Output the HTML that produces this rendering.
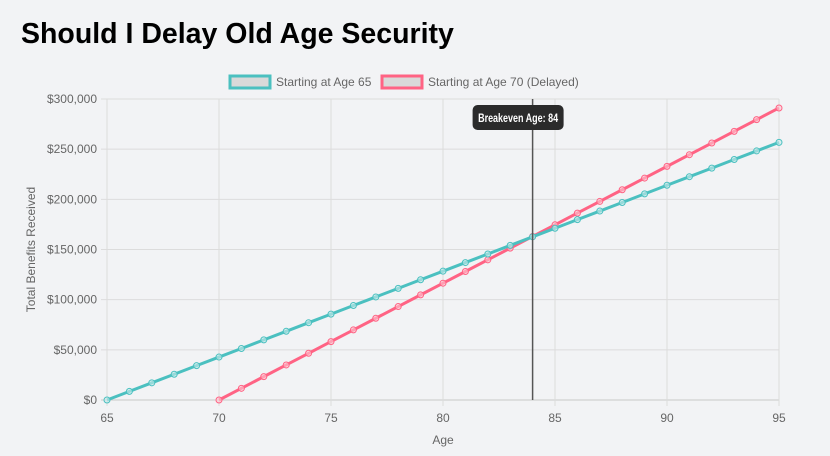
<!DOCTYPE html>
<html><head><meta charset="utf-8"><style>
body{margin:0;background:#f2f3f5;width:830px;height:456px;overflow:hidden;font-family:"Liberation Sans",sans-serif}
h1{position:absolute;left:21px;top:18px;margin:0;font-size:28.5px;font-weight:bold;color:#000;letter-spacing:0px}
svg{position:absolute;left:0;top:0}
</style></head><body>
<h1>Should I Delay Old Age Security</h1>
<svg id="c" width="830" height="456" font-family="Liberation Sans, sans-serif"></svg>
<script>
const ages65 = [65,66,67,68,69,70,71,72,73,74,75,76,77,78,79,80,81,82,83,84,85,86,87,88,89,90,91,92,93,94,95];
const values65 = [0,8560,17120,25680,34240,42800,51360,59920,68480,77040,85600,94160,102720,111280,119840,128400,136960,145520,154080,162640,171200,179760,188320,196880,205440,214000,222560,231120,239680,248240,256800];
const ages70 = [70,71,72,73,74,75,76,77,78,79,80,81,82,83,84,85,86,87,88,89,90,91,92,93,94,95];
const values70 = [0,11642,23284,34926,46568,58210,69852,81494,93136,104778,116420,128062,139704,151346,162988,174630,186272,197914,209556,221198,232840,244482,256124,267766,279408,291050];
const xTicks = [65,70,75,80,85,90,95];
const yTicks = [0,50000,100000,150000,200000,250000,300000];
const yTickLabels = ["$0","$50,000","$100,000","$150,000","$200,000","$250,000","$300,000"];
const breakevenAge = 84;

const L=107,R=779,T=99,B=400;
const xs=a=>L+(a-65)/30*(R-L);
const ys=v=>B-v/300000*(B-T);
const svg=document.getElementById('c');
const NS='http://www.w3.org/2000/svg';
function mk(tag,attrs,parent){const e=document.createElementNS(NS,tag);for(const k in attrs)e.setAttribute(k,attrs[k]);(parent||svg).appendChild(e);return e;}

yTicks.forEach((v,i)=>{
  const g=mk('line',{x1:L-6,x2:R,y1:ys(v),y2:ys(v),stroke:i===0?'#c8c8c8':'#dcdcdc','stroke-width':1});
  
  
  const t=mk('text',{x:L-10,y:ys(v)+4,'text-anchor':'end','font-size':12,fill:'#666'});
  t.textContent=yTickLabels[i];
  
  
});
xTicks.forEach(a=>{
  const g=mk('line',{x1:xs(a),x2:xs(a),y1:T,y2:B+6,stroke:'#dcdcdc','stroke-width':1});
  
  
  const t=mk('text',{x:xs(a),y:B+22,'text-anchor':'middle','font-size':12,fill:'#666'});
  t.textContent=a;
  
  
});
const xt=mk('text',{x:(L+R)/2,y:444,'text-anchor':'middle','font-size':12,fill:'#666'});xt.textContent='Age';


const yt=mk('text',{x:0,y:0,'text-anchor':'middle','font-size':12,fill:'#666',transform:'translate(35,'+((T+B)/2)+') rotate(-90)'});yt.textContent='Total Benefits Received';



function series(ages,vals,color,fill,name){
  const p=mk('polyline',{points:ages.map((a,i)=>xs(a)+','+ys(vals[i])).join(' '),fill:'none',stroke:color,'stroke-width':3,'stroke-linejoin':'round'});
  
  
  ages.forEach((a,i)=>{
    const c=mk('circle',{cx:xs(a),cy:ys(vals[i]),r:3,fill:fill,stroke:color,'stroke-width':1});
    
    
  });
}
series(ages70,values70,'#ff6384','rgba(255,200,210,0.6)','age70-series');
series(ages65,values65,'#4bc0c0','rgba(200,235,235,0.6)','age65-series');

const bl=mk('line',{x1:xs(breakevenAge),x2:xs(breakevenAge),y1:T,y2:B,stroke:'#555','stroke-width':1.5});


const bb=mk('rect',{x:xs(breakevenAge)-60,y:105,width:91,height:25,rx:5,fill:'#2b2b2b'});


const bt=mk('text',{x:xs(breakevenAge)-14.5,y:122,'text-anchor':'middle','font-size':12,'font-weight':'bold',fill:'#fff',textLength:80,lengthAdjust:'spacingAndGlyphs'});
bt.textContent='Breakeven Age: '+breakevenAge;



function legend(x,color,label,name){
  const r=mk('rect',{x:x,y:76,width:40,height:12,fill:'#d9d9d9',stroke:color,'stroke-width':3});
  
  
  const t=mk('text',{x:x+46,y:86,'font-size':12,fill:'#666'});t.textContent=label;
  
  
}
legend(230,'#4bc0c0','Starting at Age 65','legend-age65');
legend(382,'#ff6384','Starting at Age 70 (Delayed)','legend-age70');
</script>
</body></html>
